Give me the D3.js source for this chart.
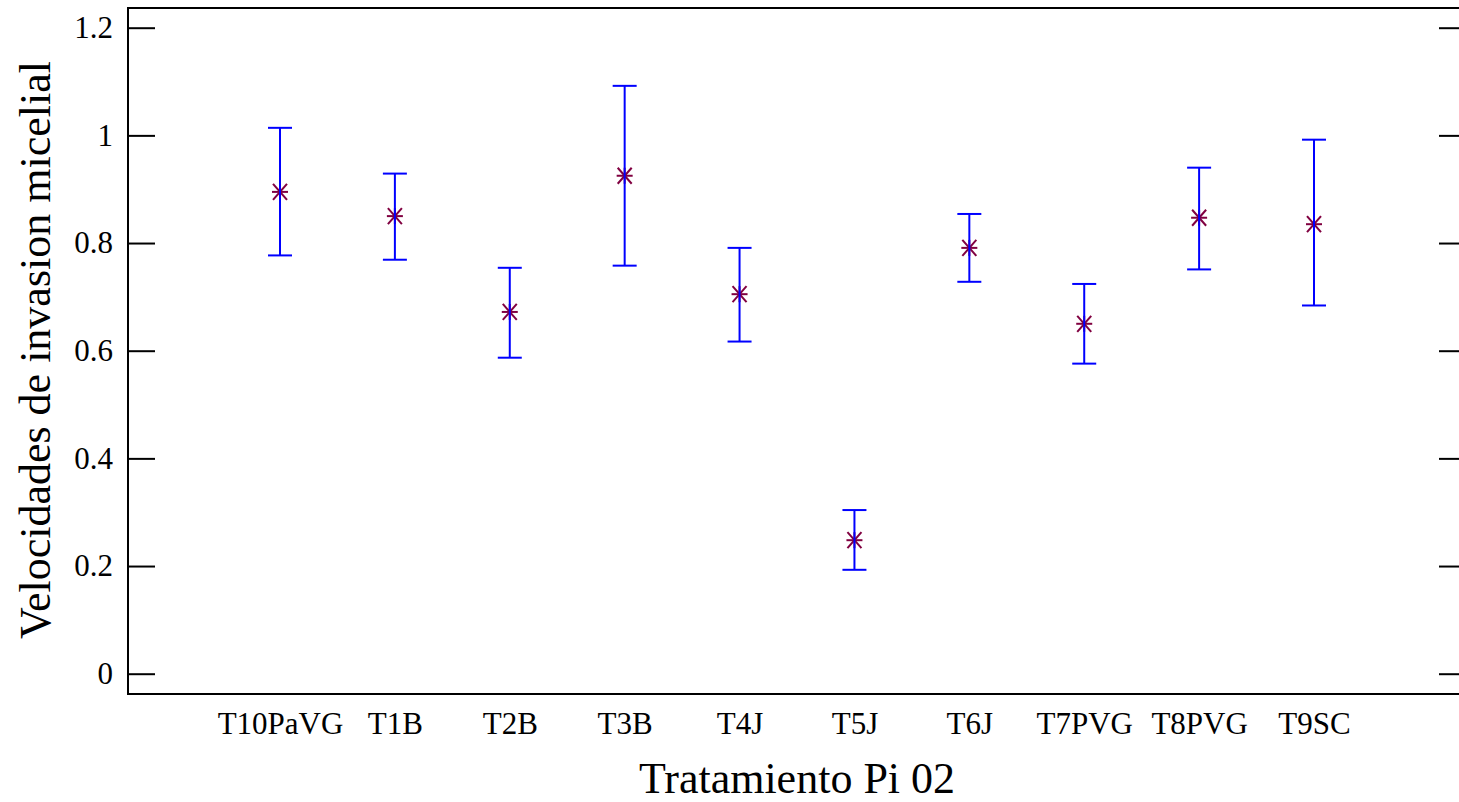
<!DOCTYPE html>
<html>
<head>
<meta charset="utf-8">
<script src="https://cdn.jsdelivr.net/npm/d3@7"></script>
<style>
  html, body { margin: 0; padding: 0; background: #fff; overflow: hidden; }
  svg { display: block; font-family: 'Liberation Serif', 'Times New Roman', serif; }
</style>
</head>
<body>
<div id="chart"></div>
<script>
const categories = ['T10PaVG', 'T1B', 'T2B', 'T3B', 'T4J', 'T5J', 'T6J', 'T7PVG', 'T8PVG', 'T9SC']
const means = [0.895, 0.850, 0.672, 0.925, 0.705, 0.248, 0.791, 0.650, 0.847, 0.835]
const upper = [1.014, 0.929, 0.754, 1.092, 0.791, 0.304, 0.854, 0.724, 0.940, 0.992]
const lower = [0.777, 0.769, 0.587, 0.758, 0.617, 0.193, 0.728, 0.576, 0.751, 0.684]
const yTicks = [0, 0.2, 0.4, 0.6, 0.8, 1, 1.2]

const width = 1459,
  height = 802
const plot = { left: 128, right: 1466, top: 8, bottom: 694 }

const data = categories.map((c, i) => ({
  name: c,
  mean: means[i],
  hi: upper[i],
  lo: lower[i],
}))

const svg = d3
  .select('#chart')
  .append('svg')
  .attr('width', width)
  .attr('height', height)

const x = d3
  .scalePoint()
  .domain(categories)
  .range([plot.left, plot.right])
  .padding(1.323)

const y = d3
  .scaleLinear()
  .domain([-0.0377, 1.2366])
  .range([plot.bottom, plot.top])

const fmt = (d) => String(+d.toFixed(1))

// left axis, ticks pointing inward
const yAxis = svg
  .append('g')
  .attr('transform', `translate(${plot.left},0)`)
  .call(d3.axisLeft(y).tickValues(yTicks).tickSize(-27).tickPadding(15).tickFormat(fmt))
yAxis.select('.domain').remove()
yAxis.selectAll('line').attr('stroke', '#000').attr('stroke-width', 2)
yAxis
  .selectAll('text')
  .attr('fill', '#000')
  .style('font-size', '31px')
  .style('font-family', "'Liberation Serif', 'Times New Roman', serif")

// right axis ticks only
const yAxisR = svg
  .append('g')
  .attr('transform', `translate(${plot.right},0)`)
  .call(d3.axisRight(y).tickValues(yTicks).tickSize(-27).tickFormat(''))
yAxisR.select('.domain').remove()
yAxisR.selectAll('line').attr('stroke', '#000').attr('stroke-width', 2)

// category labels
const xAxis = svg
  .append('g')
  .attr('transform', `translate(0,${plot.bottom})`)
  .call(d3.axisBottom(x).tickSize(0).tickPadding(18))
xAxis.select('.domain').remove()
xAxis
  .selectAll('text')
  .attr('fill', '#000')
  .style('font-size', '31px')
  .style('font-family', "'Liberation Serif', 'Times New Roman', serif")

// frame
svg
  .append('rect')
  .attr('x', plot.left)
  .attr('y', plot.top)
  .attr('width', plot.right - plot.left)
  .attr('height', plot.bottom - plot.top)
  .attr('fill', 'none')
  .attr('stroke', '#000')
  .attr('stroke-width', 2)

// markers (asterisk) drawn under the error bars
const star = svg
  .selectAll('.star')
  .data(data)
  .enter()
  .append('g')
  .attr('class', 'star')
  .attr('transform', (d) => `translate(${x(d.name)},${y(d.mean)})`)
  .attr('stroke', '#800040')
  .attr('stroke-width', 2)
star.append('line').attr('x1', -8).attr('x2', 8).attr('y1', 0).attr('y2', 0)
star.append('line').attr('x1', -7).attr('x2', 7).attr('y1', -8).attr('y2', 8)
star.append('line').attr('x1', -7).attr('x2', 7).attr('y1', 8).attr('y2', -8)
star.append('line').attr('x1', 0).attr('x2', 0).attr('y1', -8).attr('y2', 8)

// error bars
const bars = svg
  .selectAll('.err')
  .data(data)
  .enter()
  .append('g')
  .attr('class', 'err')
  .attr('stroke', '#0000ff')
  .attr('stroke-width', 2)
bars
  .append('line')
  .attr('x1', (d) => x(d.name))
  .attr('x2', (d) => x(d.name))
  .attr('y1', (d) => y(d.hi))
  .attr('y2', (d) => y(d.lo))
bars
  .append('line')
  .attr('x1', (d) => x(d.name) - 12)
  .attr('x2', (d) => x(d.name) + 12)
  .attr('y1', (d) => y(d.hi))
  .attr('y2', (d) => y(d.hi))
bars
  .append('line')
  .attr('x1', (d) => x(d.name) - 12)
  .attr('x2', (d) => x(d.name) + 12)
  .attr('y1', (d) => y(d.lo))
  .attr('y2', (d) => y(d.lo))

// axis titles
svg
  .append('text')
  .attr('x', (plot.left + plot.right) / 2)
  .attr('y', 793)
  .attr('text-anchor', 'middle')
  .style('font-size', '44px')
  .text('Tratamiento Pi 02')

svg
  .append('text')
  .attr('transform', `translate(50,350) rotate(-90)`)
  .attr('text-anchor', 'middle')
  .style('font-size', '44px')
  .text('Velocidades de invasion micelial')
</script>
</body>
</html>
